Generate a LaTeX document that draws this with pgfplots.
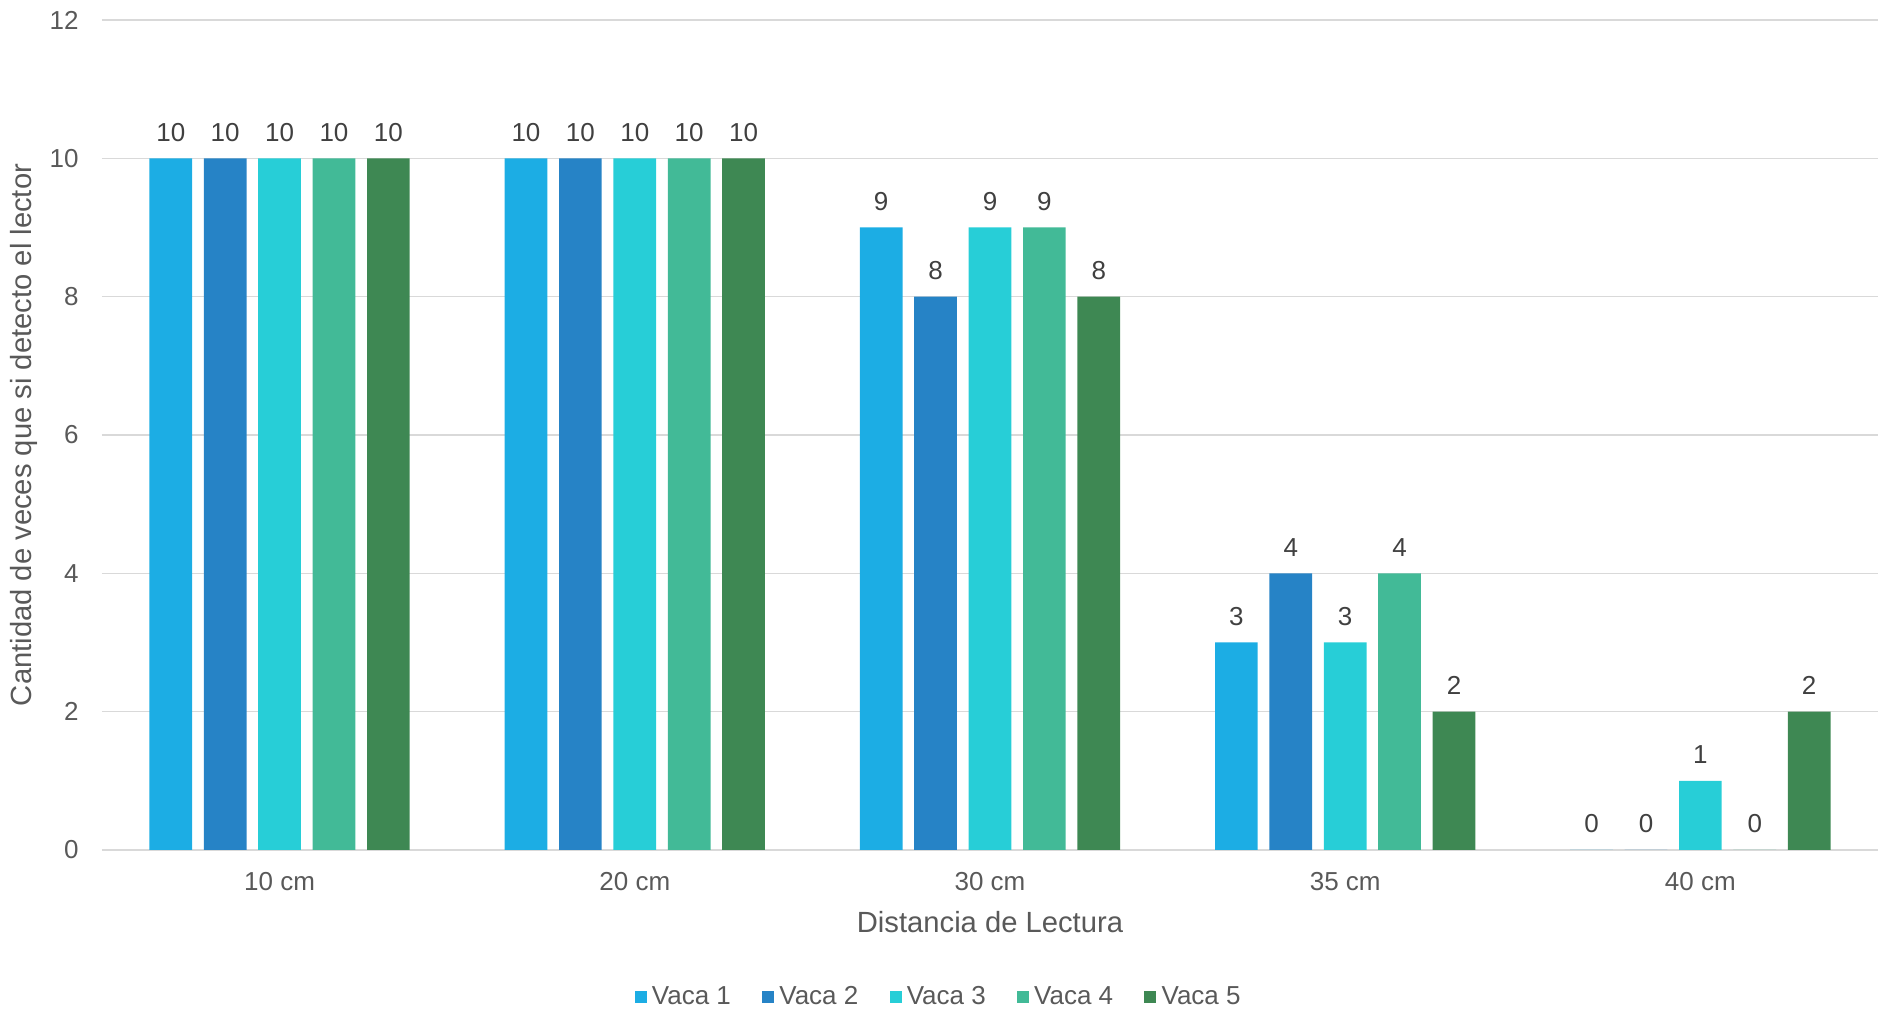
\documentclass[border=0pt]{standalone}
\usepackage{fontspec}
\setmainfont{Liberation Sans}
\usepackage{pgfplots}
\pgfplotsset{compat=1.18}

\definecolor{vacaA}{HTML}{1CADE4}
\definecolor{vacaB}{HTML}{2683C6}
\definecolor{vacaC}{HTML}{27CED7}
\definecolor{vacaD}{HTML}{42BA97}
\definecolor{vacaE}{HTML}{3E8853}
\definecolor{gridgray}{HTML}{D9D9D9}
\definecolor{txtgray}{HTML}{595959}
\definecolor{lblgray}{HTML}{404040}

\newcommand{\tickfont}{\fontsize{13}{15}\selectfont}
\newcommand{\titlefont}{\fontsize{14.6}{17}\selectfont}

\begin{document}
\begin{tikzpicture}
\begin{axis}[
    at={(0pt,0pt)}, anchor=south west,
    scale only axis,
    width=888pt, height=415pt,
    ybar=5.85pt, bar width=21.35pt,
    xmin=-0.5, xmax=4.5,
    ymin=0, ymax=12,
    xtick=data,
    xticklabels={10 cm, 20 cm, 30 cm, 35 cm, 40 cm},
    ytick={0,2,...,12},
    major tick length=0pt,
    axis line style={draw=none},
    ymajorgrids,
    grid style={gridgray, line width=0.65pt},
    /pgf/number format/assume math mode=true,
    tick label style={font=\tickfont, text=txtgray},
    xticklabel style={anchor=base, yshift=-20.2pt},
    yticklabel style={anchor=east, inner sep=0pt, xshift=-11.5pt},
    xlabel={Distancia de Lectura},
    ylabel={Cantidad de veces que si detecto el lector},
    label style={font=\titlefont, text=txtgray},
    xlabel style={at={(axis description cs:0.5,0)}, anchor=center, yshift=-36pt},
    ylabel style={at={(axis description cs:0,0.5)}, anchor=center, yshift=39pt},
    nodes near coords,
    every node near coord/.append style={font=\tickfont, text=lblgray, anchor=center, yshift=13pt},
    legend columns=5,
    legend style={draw=none, fill=none, font=\tickfont, text=txtgray,
        at={(0.472,-0.177)}, anchor=center, inner sep=0pt,
        nodes={inner sep=2.6pt},
        /tikz/every even column/.append style={column sep=13pt}},
    legend image code/.code={\fill[#1] (0pt,-3pt) rectangle (6pt,3pt);},
]
\addplot[fill=vacaA, draw=none] coordinates {(0,10) (1,10) (2,9) (3,3) (4,0)};
\addlegendentry{Vaca 1}
\addplot[fill=vacaB, draw=none] coordinates {(0,10) (1,10) (2,8) (3,4) (4,0)};
\addlegendentry{Vaca 2}
\addplot[fill=vacaC, draw=none] coordinates {(0,10) (1,10) (2,9) (3,3) (4,1)};
\addlegendentry{Vaca 3}
\addplot[fill=vacaD, draw=none] coordinates {(0,10) (1,10) (2,9) (3,4) (4,0)};
\addlegendentry{Vaca 4}
\addplot[fill=vacaE, draw=none] coordinates {(0,10) (1,10) (2,8) (3,2) (4,2)};
\addlegendentry{Vaca 5}
\end{axis}
\path (-51pt,-80pt) rectangle (889.5pt,425pt);
\end{tikzpicture}
\end{document}
